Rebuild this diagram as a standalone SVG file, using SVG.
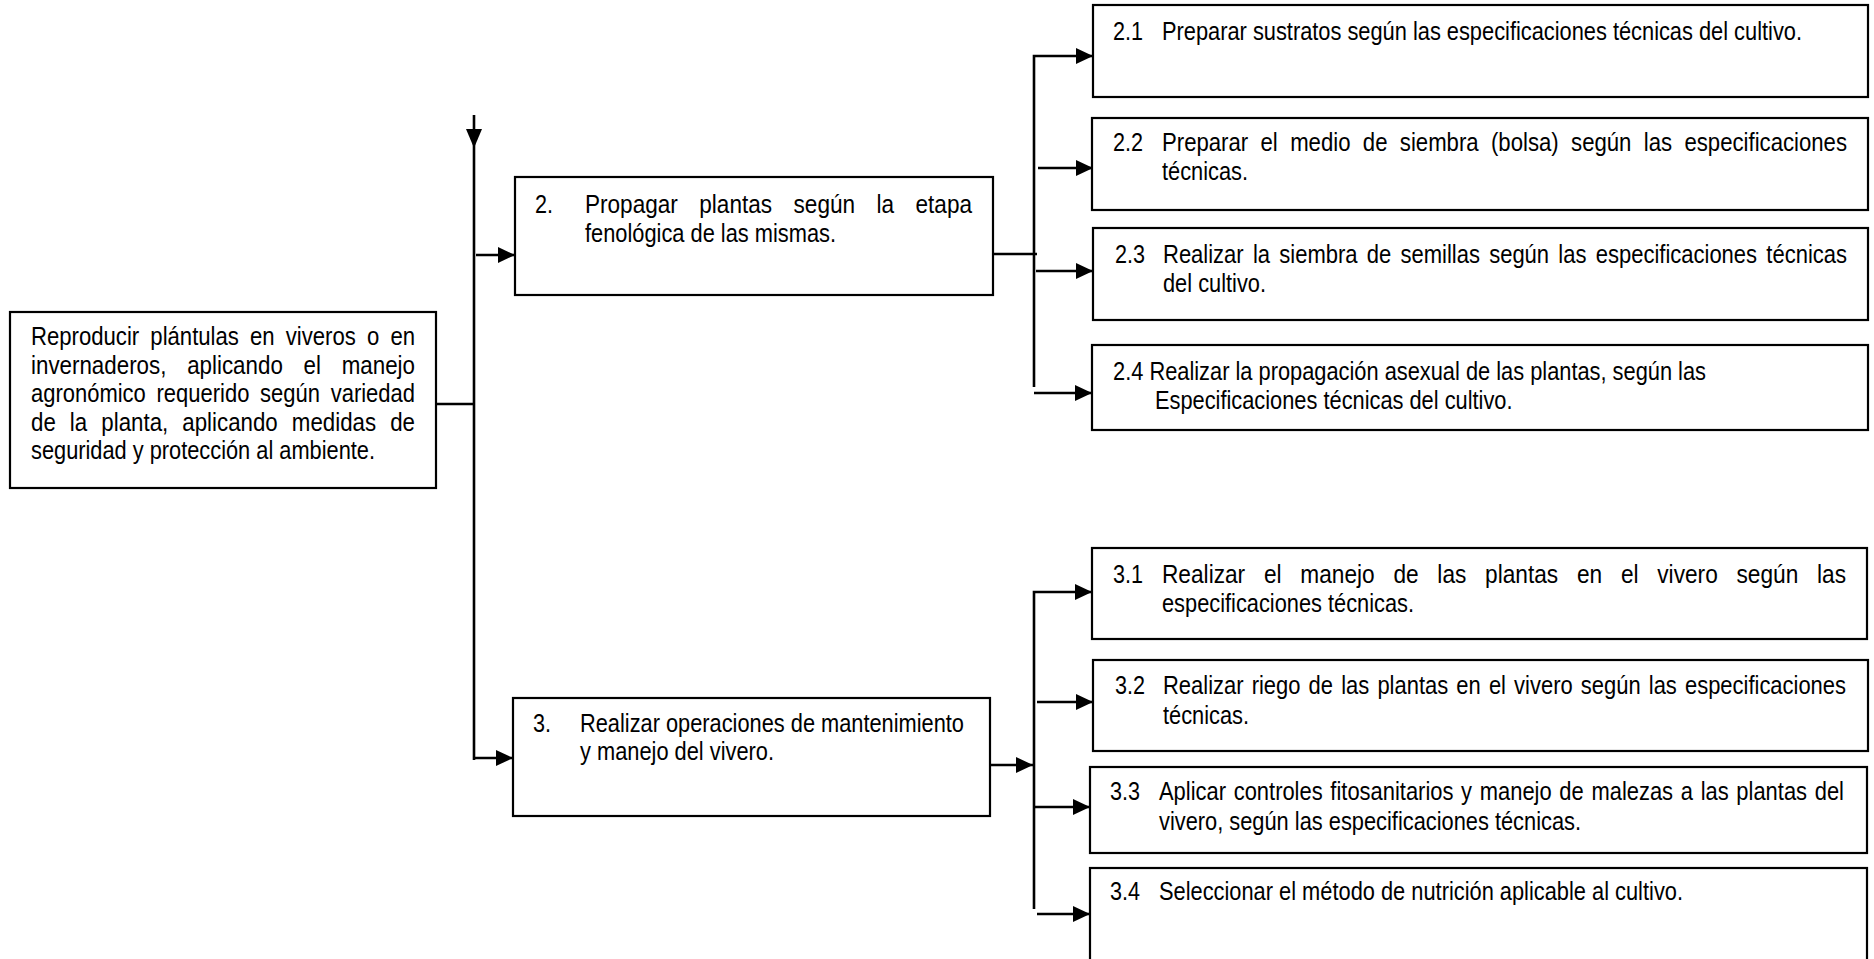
<svg xmlns="http://www.w3.org/2000/svg" width="1874" height="959" viewBox="0 0 1874 959">
<style>
.box{fill:#fff;stroke:#000;stroke-width:2.2}
.t{font-family:"Liberation Sans Narrow","Arial Narrow","Liberation Sans",Arial,sans-serif;font-size:26.6px;fill:#000}
.c{stroke:#000;stroke-width:2.6;fill:none}
</style>
<defs>
<marker id="ah" markerUnits="userSpaceOnUse" markerWidth="17" markerHeight="16" refX="17" refY="8" orient="auto">
<path d="M0,0 L17,8 L0,16 z" fill="#000"/>
</marker>
</defs>
<rect width="1874" height="959" fill="#fff"/>

<g id="connectors">
<line class="c" x1="436" y1="404" x2="474" y2="404"/>
<line class="c" x1="474" y1="115" x2="474" y2="760"/>
<path d="M466,129 L482,129 L474,148 z" fill="#000"/>
<line class="c" x1="476" y1="255" x2="515" y2="255" marker-end="url(#ah)"/>
<line class="c" x1="474" y1="758" x2="513" y2="758" marker-end="url(#ah)"/>

<line class="c" x1="993" y1="254" x2="1037" y2="254"/>
<path class="c" d="M1034,387 L1034,56 L1093,56" marker-end="url(#ah)"/>
<line class="c" x1="1038" y1="168" x2="1093" y2="168" marker-end="url(#ah)"/>
<line class="c" x1="1036" y1="271" x2="1093" y2="271" marker-end="url(#ah)"/>
<line class="c" x1="1034" y1="393" x2="1092" y2="393" marker-end="url(#ah)"/>

<line class="c" x1="991" y1="765" x2="1033" y2="765" marker-end="url(#ah)"/>
<path class="c" d="M1034,909 L1034,592 L1092,592" marker-end="url(#ah)"/>
<line class="c" x1="1037" y1="702" x2="1093" y2="702" marker-end="url(#ah)"/>
<line class="c" x1="1034" y1="807" x2="1090" y2="807" marker-end="url(#ah)"/>
<line class="c" x1="1037" y1="914" x2="1090" y2="914" marker-end="url(#ah)"/>
</g>

<g id="node-root">
<rect class="box" x="10" y="312" width="426" height="176"/>
<text class="t" x="31" y="345" textLength="384" lengthAdjust="spacingAndGlyphs" word-spacing="6">Reproducir plántulas en viveros o en</text>
<text class="t" x="31" y="373.5" textLength="384" lengthAdjust="spacingAndGlyphs" word-spacing="17.3">invernaderos, aplicando el manejo</text>
<text class="t" x="31" y="402" textLength="384" lengthAdjust="spacingAndGlyphs" word-spacing="5.6">agronómico requerido según variedad</text>
<text class="t" x="31" y="430.5" textLength="384" lengthAdjust="spacingAndGlyphs" word-spacing="9.4">de la planta, aplicando medidas de</text>
<text class="t" x="31" y="459" textLength="344" lengthAdjust="spacingAndGlyphs">seguridad y protección al ambiente.</text>
</g>

<g id="node-2">
<rect class="box" x="515" y="177" width="478" height="118"/>
<text class="t" x="535" y="213" textLength="18" lengthAdjust="spacingAndGlyphs">2.</text>
<text class="t" x="585" y="213" textLength="387" lengthAdjust="spacingAndGlyphs" word-spacing="17.9">Propagar plantas según la etapa</text>
<text class="t" x="585" y="242" textLength="251" lengthAdjust="spacingAndGlyphs">fenológica de las mismas.</text>
</g>

<g id="node-3">
<rect class="box" x="513" y="698" width="477" height="118"/>
<text class="t" x="533" y="732" textLength="18" lengthAdjust="spacingAndGlyphs">3.</text>
<text class="t" x="580" y="732" textLength="384" lengthAdjust="spacingAndGlyphs">Realizar operaciones de mantenimiento</text>
<text class="t" x="580" y="760" textLength="194" lengthAdjust="spacingAndGlyphs">y manejo del vivero.</text>
</g>

<g id="node-2-1">
<rect class="box" x="1093" y="5" width="775" height="92"/>
<text class="t" x="1113" y="40" textLength="30" lengthAdjust="spacingAndGlyphs">2.1</text>
<text class="t" x="1162" y="40" textLength="640" lengthAdjust="spacingAndGlyphs">Preparar sustratos según las especificaciones técnicas del cultivo.</text>
</g>

<g id="node-2-2">
<rect class="box" x="1092" y="118" width="776" height="92"/>
<text class="t" x="1113" y="151" textLength="30" lengthAdjust="spacingAndGlyphs">2.2</text>
<text class="t" x="1162" y="151" textLength="685" lengthAdjust="spacingAndGlyphs" word-spacing="7.45">Preparar el medio de siembra (bolsa) según las especificaciones</text>
<text class="t" x="1162" y="180" textLength="86" lengthAdjust="spacingAndGlyphs">técnicas.</text>
</g>

<g id="node-2-3">
<rect class="box" x="1093" y="228" width="775" height="92"/>
<text class="t" x="1115" y="263" textLength="30" lengthAdjust="spacingAndGlyphs">2.3</text>
<text class="t" x="1163" y="263" textLength="684" lengthAdjust="spacingAndGlyphs" word-spacing="3.8">Realizar la siembra de semillas según las especificaciones técnicas</text>
<text class="t" x="1163" y="292" textLength="103" lengthAdjust="spacingAndGlyphs">del cultivo.</text>
</g>

<g id="node-2-4">
<rect class="box" x="1092" y="345" width="776" height="85"/>
<text class="t" x="1113" y="380" textLength="593" lengthAdjust="spacingAndGlyphs">2.4 Realizar la propagación asexual de las plantas, según las</text>
<text class="t" x="1155" y="409" textLength="357.5" lengthAdjust="spacingAndGlyphs">Especificaciones técnicas del cultivo.</text>
</g>

<g id="node-3-1">
<rect class="box" x="1092" y="548" width="775" height="91"/>
<text class="t" x="1113" y="583" textLength="30" lengthAdjust="spacingAndGlyphs">3.1</text>
<text class="t" x="1162" y="583" textLength="684" lengthAdjust="spacingAndGlyphs" word-spacing="14.6">Realizar el manejo de las plantas en el vivero según las</text>
<text class="t" x="1162" y="612" textLength="252" lengthAdjust="spacingAndGlyphs">especificaciones técnicas.</text>
</g>

<g id="node-3-2">
<rect class="box" x="1093" y="660" width="775" height="91"/>
<text class="t" x="1115" y="694" textLength="30" lengthAdjust="spacingAndGlyphs">3.2</text>
<text class="t" x="1163" y="694" textLength="683" lengthAdjust="spacingAndGlyphs" word-spacing="2.5">Realizar riego de las plantas en el vivero según las especificaciones</text>
<text class="t" x="1163" y="724" textLength="86" lengthAdjust="spacingAndGlyphs">técnicas.</text>
</g>

<g id="node-3-3">
<rect class="box" x="1090" y="767" width="777" height="86"/>
<text class="t" x="1110" y="800" textLength="30" lengthAdjust="spacingAndGlyphs">3.3</text>
<text class="t" x="1159" y="800" textLength="685" lengthAdjust="spacingAndGlyphs" word-spacing="1.95">Aplicar controles fitosanitarios y manejo de malezas a las plantas del</text>
<text class="t" x="1159" y="830" textLength="422" lengthAdjust="spacingAndGlyphs">vivero, según las especificaciones técnicas.</text>
</g>

<g id="node-3-4">
<rect class="box" x="1090" y="868" width="777" height="96"/>
<text class="t" x="1110" y="900" textLength="30" lengthAdjust="spacingAndGlyphs">3.4</text>
<text class="t" x="1159" y="900" textLength="524" lengthAdjust="spacingAndGlyphs">Seleccionar el método de nutrición aplicable al cultivo.</text>
</g>
</svg>
